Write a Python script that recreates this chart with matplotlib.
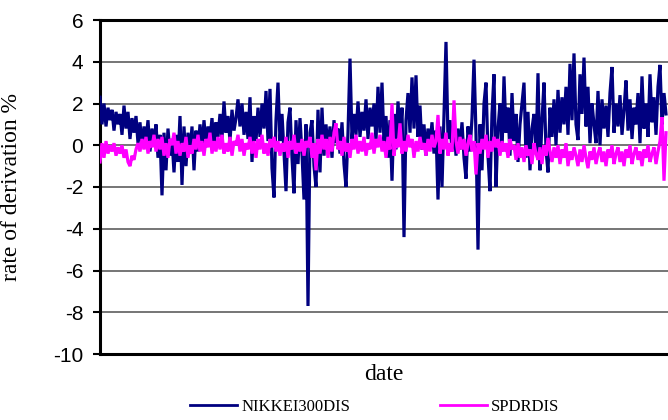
import matplotlib
matplotlib.use("Agg")
import matplotlib.pyplot as plt
from matplotlib.lines import Line2D

nikkei = [
    2.3, 1.0, 2.0, 0.9, 1.8, 1.2, 1.7, 0.7, 1.6, 1.0,
    1.5, 0.5, 1.9, 0.8, 1.6, 0.3, 1.3, 0.6, 1.4, 0.1,
    1.1, -0.1, 0.9, 0.2, 1.2, -0.3, 0.8, 0.1, 1.0, -0.6,
    0.5, -2.4, 0.6, -1.2, 0.8, -0.5, 0.3, -1.3, 0.5, -0.8,
    1.4, -1.9, 0.9, -1.0, 0.6, -0.4, 0.9, -1.2, 0.7, -0.3,
    1.0, -0.2, 1.2, 0.0, 0.9, 0.3, 1.3, -0.1, 1.1, 0.4,
    1.5, 0.3, 2.1, 0.6, 1.4, 0.2, 1.7, 0.7, 1.3, 2.2,
    0.9, 2.0, 0.5, 1.6, 0.3, 2.3, -0.8, 1.4, 0.2, 1.8,
    0.4, 2.0, 0.8, 2.6, 0.2, 2.7, -1.1, -2.5, 1.2, 3.0,
    0.2, 1.5, -0.3, -2.2, 1.1, 1.8, -0.6, -2.3, 1.2, -0.9,
    1.3, -0.4, -2.6, 1.0, -7.7, 0.6, 1.2, -1.0, -2.0, 1.7,
    -1.3, 1.8, -0.5, 1.0, -0.2, 0.9, -0.6, 1.2, 0.1, 0.8,
    -0.4, 1.1, -0.9, -2.0, 0.6, 4.15, 0.3, 1.5, 0.5, 2.1,
    0.4, 1.6, 0.7, 2.2, 0.3, 1.8, 0.9, 2.0, 0.2, 2.8,
    0.6, 3.0, 0.1, 1.4, -0.6, 1.2, -1.7, 1.5, -0.2, 2.1,
    0.3, 1.8, -4.4, 1.2, 2.5, 0.6, 3.25, 0.8, 3.35, 0.4,
    1.9, -0.2, 1.0, -0.5, 0.8, 0.0, 1.1, -0.4, 0.7, -2.6,
    0.9, -2.0, 1.5, 4.95, 0.3, 1.2, -0.3, 1.0, -0.5, 0.8,
    -0.2, 1.1, -0.6, -1.6, 0.9, -0.3, 1.3, 4.1, 0.5, -5.0,
    1.0, -1.2, 2.0, 3.0, -0.5, -2.2, 1.5, 3.4, -2.0, 0.8,
    2.0, -0.3, 3.3, 0.6, 1.8, -0.5, 2.5, 0.2, 1.5, -0.8,
    1.0, 2.0, 3.0, -0.6, 1.6, -1.2, 0.8, 1.5, -0.4, 3.45,
    -1.2, 1.2, 3.0, -0.2, -1.3, 1.8, 0.4, 2.2, 0.0, 2.65,
    0.6, 2.3, 1.0, 2.8, 0.5, 3.9, 1.2, 4.4, 1.0, 0.25,
    3.4, 1.5, 4.2, 0.9, 2.8, 0.1, 2.0, 1.0, 0.1, 2.6,
    0.0, 2.2, 0.8, 1.9, 0.4, 2.5, 3.75, 0.6, 2.0, 0.9,
    2.4, 0.5, 1.7, 3.1, 0.7, 2.2, 0.3, 1.8, 1.0, 2.5,
    0.1, 3.3, 0.8, 2.0, 0.4, 3.4, 1.1, 2.3, 0.5, 2.8,
    3.85, 1.0, 2.5, 1.5,
]

spdr = [
    -0.8, 0.1, -0.6, 0.2, -0.4, 0.0, -0.3, 0.1, -0.5, -0.1,
    -0.4, 0.0, -0.6, -0.2, -0.8, -1.0, -0.5, -0.7, -0.2, 0.1,
    -0.3, 0.3, -0.2, 0.4, -0.4, 0.2, -0.1, 0.5, -0.3, 0.3,
    -0.2, 0.4, -0.5, 0.1, -0.6, 0.3, 0.0, 0.6, -0.4, 0.2,
    -0.5, 0.1, -0.3, 0.4, -0.6, 0.0, -0.4, 0.3, -0.2, 0.5,
    -0.3, 0.2, -0.5, 0.3, -0.1, 0.6, -0.4, 0.2, -0.3, 0.4,
    -0.2, 0.5, -0.4, 0.1, -0.3, 0.4, -0.5, 0.2, 0.0, 0.5,
    -0.3, 0.3, -0.5, 0.1, -0.2, 0.4, -0.4, 0.2, -0.6, 0.3,
    -0.2, 0.5, -0.4, 0.1, -0.5, 0.3, -0.1, 0.4, -0.3, 0.2,
    -0.5, 0.1, -0.3, 0.4, -0.6, 0.2, -0.2, 0.5, -0.4, 0.1,
    -0.3, 0.3, -0.5, 0.2, -0.1, 0.4, -0.6, 0.1, -1.2, 0.3,
    -0.4, 0.5, -0.2, 0.3, -0.6, 0.4, -0.3, 0.6, 1.05, -0.2,
    0.2, -0.5, 0.4, -0.3, 0.1, -0.6, 0.3, -0.2, 0.5, -0.4,
    0.2, -0.3, 0.4, -0.5, 0.1, -0.2, 0.6, -0.4, 0.3, -0.1,
    0.5, -0.3, 0.2, -0.6, 0.4, -0.2, 2.0, -0.5, 0.3, -0.1,
    1.05, -0.4, 0.2, -0.3, 0.5, -0.1, 0.3, -0.6, 0.2, -0.3,
    0.4, -0.2, 0.1, -0.5, 0.3, -0.3, 0.5, -0.1, 0.2, 1.45,
    -0.4, 0.3, -0.2, 0.6, -0.5, 0.1, -0.3, 2.15, 0.2, -0.4,
    0.4, -0.2, 0.3, -0.5, 0.1, 0.5, -0.3, 0.2, -1.4, 0.1,
    -0.4, 0.3, -0.2, 0.5, -0.6, 0.2, -0.3, 0.4, -0.1, 0.3,
    -0.5, 0.2, -0.3, 0.1, -0.6, 0.3, -0.2, 0.0, -0.7, 0.1,
    -0.6, -0.1, -0.8, 0.0, -0.5, -0.2, -0.9, 0.1, -0.4, -0.7,
    -0.1, -0.9, 0.0, -0.5, 0.35, -0.3, -0.8, -0.1, -0.6, 0.0,
    -0.9, -0.2, -0.6, 0.1, -1.0, -0.3, -0.7, -0.1, -0.5, -1.0,
    -0.2, -0.8, 0.0, -0.6, -1.1, -0.3, -0.7, -0.1, -0.9, -0.4,
    -0.1, -0.8, -0.3, -1.0, -0.2, -0.6, 0.0, -0.9, -0.4, -0.1,
    -0.8, -0.3, -1.0, -0.2, -0.6, 0.0, -0.9, -0.4, -0.1, -0.7,
    -0.3, -1.0, -0.2, -0.6, 0.0, -0.8, -0.4, -0.1, -0.9, -0.3,
    0.2, 1.35, -1.7, 0.6,
]

series_names = ["NIKKEI300DIS", "SPDRDIS"]
y_ticks = [6, 4, 2, 0, -2, -4, -6, -8, -10]

navy = "#000080"
magenta = "#FF00FF"
serif = ["Liberation Serif", "DejaVu Serif"]
sans = ["Liberation Sans", "DejaVu Sans"]

fig = plt.figure(figsize=(6.68, 4.2), dpi=100)
ax = fig.add_axes([100 / 668, 66 / 420, 1 - 100 / 668, 334 / 420])

x = list(range(len(nikkei)))
ax.plot(x, nikkei, color=navy, lw=2.3, solid_joinstyle="miter", zorder=3)
ax.plot(x, spdr, color=magenta, lw=2.3, solid_joinstyle="miter", zorder=4)

ax.set_xlim(0, len(nikkei))
ax.set_ylim(-10, 6)
ax.set_yticks(y_ticks)
ax.set_yticklabels([str(t) for t in y_ticks], fontfamily=sans, fontsize=15)
ax.set_xticks([])
ax.tick_params(axis="y", direction="out", length=5, width=1.5, pad=7, color="black")

ax.yaxis.grid(True, color="#6a6a6a", lw=1.3)
ax.set_axisbelow(True)

for side in ["left", "bottom", "top"]:
    ax.spines[side].set_linewidth(2.2)
    ax.spines[side].set_color("black")
ax.spines["right"].set_visible(False)

ax.set_xlabel("date", fontfamily=serif, fontsize=17, labelpad=7)
ax.set_ylabel("rate of derivation %", fontfamily=serif, fontsize=17)
ax.yaxis.set_label_coords(-0.137, 0.5)

handles = [Line2D([0], [0], color=navy, lw=2), Line2D([0], [0], color=magenta, lw=2)]
fig.legend(handles, series_names, loc="center", bbox_to_anchor=(0.561, 0.031), ncol=2,
           frameon=False, prop={"family": serif, "size": 12}, handlelength=2.8,
           handletextpad=0.25, columnspacing=5.4)

fig.savefig("out.png", dpi=100)
